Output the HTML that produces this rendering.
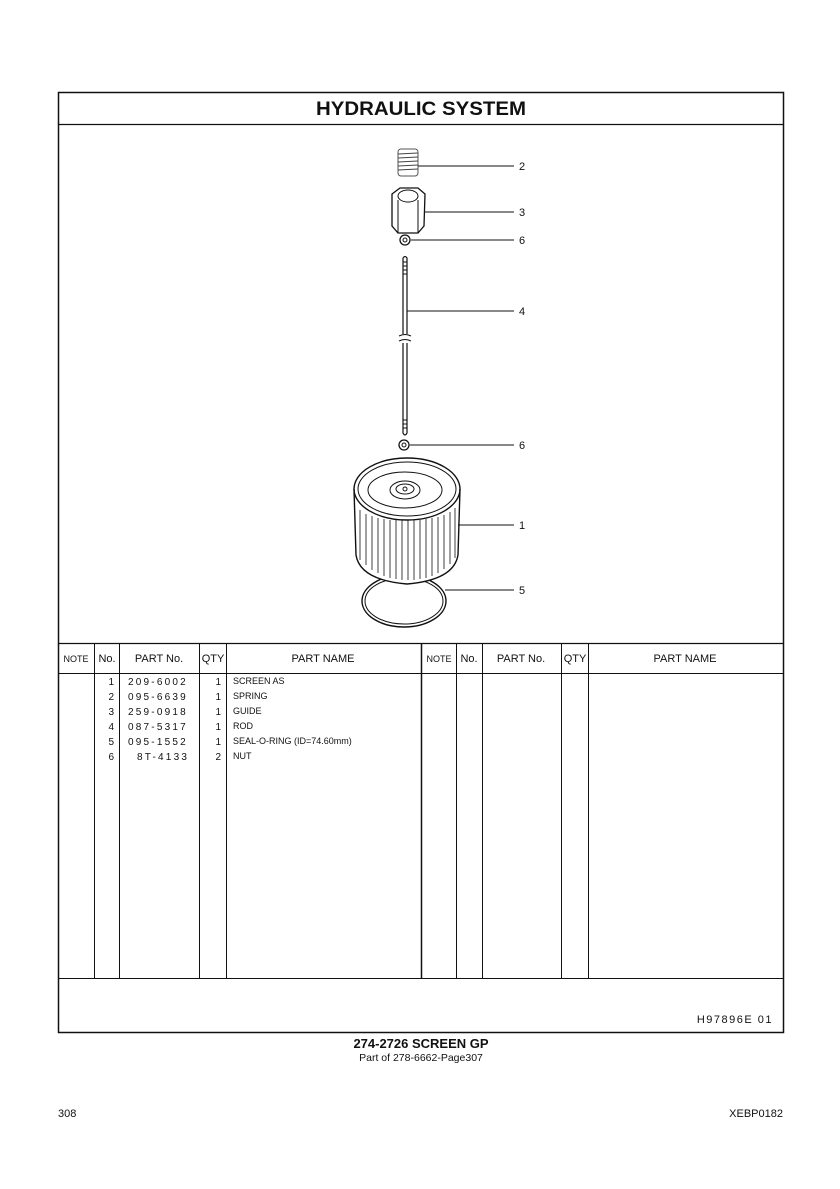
<!DOCTYPE html>
<html><head><meta charset="utf-8"><style>
body{margin:0;background:#fff;width:840px;height:1189px;position:relative;font-family:"Liberation Sans",sans-serif;color:#111}
svg{position:absolute;left:0;top:0}
</style></head><body>
<svg width="840" height="1189" viewBox="0 0 840 1189" font-family="Liberation Sans, sans-serif" fill="none" stroke="#111">
<rect x="58.5" y="92.5" width="725" height="940" stroke-width="1.5"/>
<line x1="58" y1="124.5" x2="783" y2="124.5" stroke-width="1.2"/>
<text x="421" y="115" font-size="19" font-weight="bold" text-anchor="middle" fill="#111" stroke="none" textLength="210" lengthAdjust="spacingAndGlyphs">HYDRAULIC  SYSTEM</text>
<!-- table -->
<line x1="58" y1="643.5" x2="783" y2="643.5" stroke-width="1.2"/>
<line x1="58" y1="673.5" x2="783" y2="673.5"/>
<line x1="58" y1="978.5" x2="783" y2="978.5"/>
<g stroke-width="1">
<line x1="94.5" y1="643" x2="94.5" y2="978"/><line x1="119.5" y1="643" x2="119.5" y2="978"/>
<line x1="199.5" y1="643" x2="199.5" y2="978"/><line x1="226.5" y1="643" x2="226.5" y2="978"/>
<line x1="421.5" y1="643" x2="421.5" y2="978" stroke-width="1.5"/>
<line x1="456.5" y1="643" x2="456.5" y2="978"/><line x1="482.5" y1="643" x2="482.5" y2="978"/>
<line x1="561.5" y1="643" x2="561.5" y2="978"/><line x1="588.5" y1="643" x2="588.5" y2="978"/>
</g>
<g fill="#111" stroke="none" font-size="11" text-anchor="middle">
<text x="76" y="662" font-size="9">NOTE</text><text x="107" y="662">No.</text><text x="159" y="662">PART No.</text><text x="213" y="662">QTY</text><text x="323" y="662">PART NAME</text>
<text x="439" y="662" font-size="9">NOTE</text><text x="469" y="662">No.</text><text x="521" y="662">PART No.</text><text x="575" y="662">QTY</text><text x="685" y="662">PART NAME</text>
</g>
<g fill="#111" stroke="none" font-size="10">
<g text-anchor="end"><text x="114" y="685">1</text><text x="114" y="700">2</text><text x="114" y="715">3</text><text x="114" y="730">4</text><text x="114" y="745">5</text><text x="114" y="760">6</text>
<text x="221" y="685">1</text><text x="221" y="700">1</text><text x="221" y="715">1</text><text x="221" y="730">1</text><text x="221" y="745">1</text><text x="221" y="760">2</text></g>
<g letter-spacing="2.2"><text x="128" y="685">209-6002</text><text x="128" y="700">095-6639</text><text x="128" y="715">259-0918</text><text x="128" y="730">087-5317</text><text x="128" y="745">095-1552</text><text x="137" y="760">8T-4133</text></g>
<g font-size="9"><text x="233" y="684">SCREEN  AS</text><text x="233" y="699">SPRING</text><text x="233" y="714">GUIDE</text><text x="233" y="729">ROD</text><text x="233" y="744">SEAL-O-RING (ID=74.60mm)</text><text x="233" y="759">NUT</text></g>
<text x="773" y="1023" text-anchor="end" font-size="11" letter-spacing="1.5">H97896E   01</text>
<text x="421" y="1048" text-anchor="middle" font-size="13" font-weight="bold">274-2726  SCREEN  GP</text>
<text x="421" y="1061" text-anchor="middle" font-size="10.5">Part of 278-6662-Page307</text>
<text x="58" y="1117" font-size="11">308</text>
<text x="783" y="1117" font-size="11" text-anchor="end">XEBP0182</text>
</g>
<!-- diagram -->
<g stroke-width="1">
<!-- ring (behind filter) -->
<ellipse cx="404" cy="601" rx="42" ry="26" stroke-width="1.4"/>
<ellipse cx="404" cy="601" rx="39" ry="23"/>
<!-- spring -->
<rect x="398" y="149" width="20" height="27" rx="3" stroke="#555"/>
<g stroke="#444"><line x1="398" y1="154" x2="418" y2="153"/><line x1="398" y1="158" x2="418" y2="157"/><line x1="398" y1="162" x2="418" y2="161"/><line x1="398" y1="166" x2="418" y2="165"/><line x1="398" y1="170" x2="418" y2="169"/></g>
<line x1="418" y1="166" x2="514" y2="166"/>
<!-- guide hex -->
<path d="M392 194 L400 188 L418 188 L425 194 L424 226 L418 233 L398 233 L392 226 Z" stroke-width="1.3"/>
<ellipse cx="408" cy="196" rx="10" ry="6"/>
<line x1="398" y1="200" x2="398" y2="233"/><line x1="418" y1="200" x2="418" y2="233"/>
<line x1="425" y1="212" x2="514" y2="212"/>
<!-- nut -->
<circle cx="405" cy="240" r="5" stroke-width="1.3"/><circle cx="405" cy="240" r="2"/>
<line x1="411" y1="240" x2="514" y2="240"/>
<!-- rod -->
<path d="M403 258 Q405 255 407 258 L407 334 M403 258 L403 334 M403 343 L403 433 Q405 437 407 433 L407 343" stroke-width="1.2"/>
<path d="M399 336 Q405 333 411 336 M399 341 Q405 338 411 341"/>
<g><line x1="403" y1="262" x2="407" y2="262"/><line x1="403" y1="266" x2="407" y2="266"/><line x1="403" y1="270" x2="407" y2="270"/><line x1="403" y1="274" x2="407" y2="274"/>
<line x1="403" y1="420" x2="407" y2="420"/><line x1="403" y1="424" x2="407" y2="424"/><line x1="403" y1="428" x2="407" y2="428"/></g>
<line x1="407" y1="311" x2="514" y2="311"/>
<circle cx="404" cy="445" r="5" stroke-width="1.3"/><circle cx="404" cy="445" r="2"/>
<line x1="410" y1="445" x2="514" y2="445"/>
<!-- filter -->
<path d="M354 489 L356 555 Q360 580 407 584 Q454 580 458 555 L460 489 Z" fill="#fff" stroke="none"/>
<ellipse cx="407" cy="489" rx="53" ry="31" stroke-width="1.4" fill="#fff"/>
<ellipse cx="407" cy="489" rx="49" ry="27"/>
<ellipse cx="405" cy="490" rx="37" ry="18"/>
<ellipse cx="405" cy="490" rx="15" ry="9"/>
<ellipse cx="405" cy="489" rx="9" ry="5"/>
<circle cx="405" cy="489" r="2"/>
<path d="M354 489 L356 555 Q360 580 407 584 Q454 580 458 555 L460 489" stroke-width="1.4"/>
<g stroke-width="0.8">
<line x1="360" y1="510" x2="360" y2="560"/><line x1="366" y1="514" x2="366" y2="565"/><line x1="372" y1="516" x2="372" y2="570"/><line x1="378" y1="518" x2="378" y2="573"/><line x1="384" y1="519" x2="384" y2="576"/><line x1="390" y1="520" x2="390" y2="578"/><line x1="396" y1="520" x2="396" y2="579"/><line x1="402" y1="520" x2="402" y2="580"/><line x1="408" y1="520" x2="408" y2="580"/><line x1="414" y1="520" x2="414" y2="580"/><line x1="420" y1="520" x2="420" y2="579"/><line x1="426" y1="519" x2="426" y2="578"/><line x1="432" y1="518" x2="432" y2="576"/><line x1="438" y1="517" x2="438" y2="573"/><line x1="444" y1="515" x2="444" y2="569"/><line x1="450" y1="512" x2="450" y2="564"/><line x1="455" y1="508" x2="455" y2="558"/>
</g>
<line x1="458" y1="525" x2="514" y2="525"/>
<line x1="445" y1="590" x2="514" y2="590"/>
</g>
<g fill="#111" stroke="none" font-size="11">
<text x="519" y="170">2</text><text x="519" y="216">3</text><text x="519" y="244">6</text><text x="519" y="315">4</text><text x="519" y="449">6</text><text x="519" y="529">1</text><text x="519" y="594">5</text>
</g>
</svg>
</body></html>
